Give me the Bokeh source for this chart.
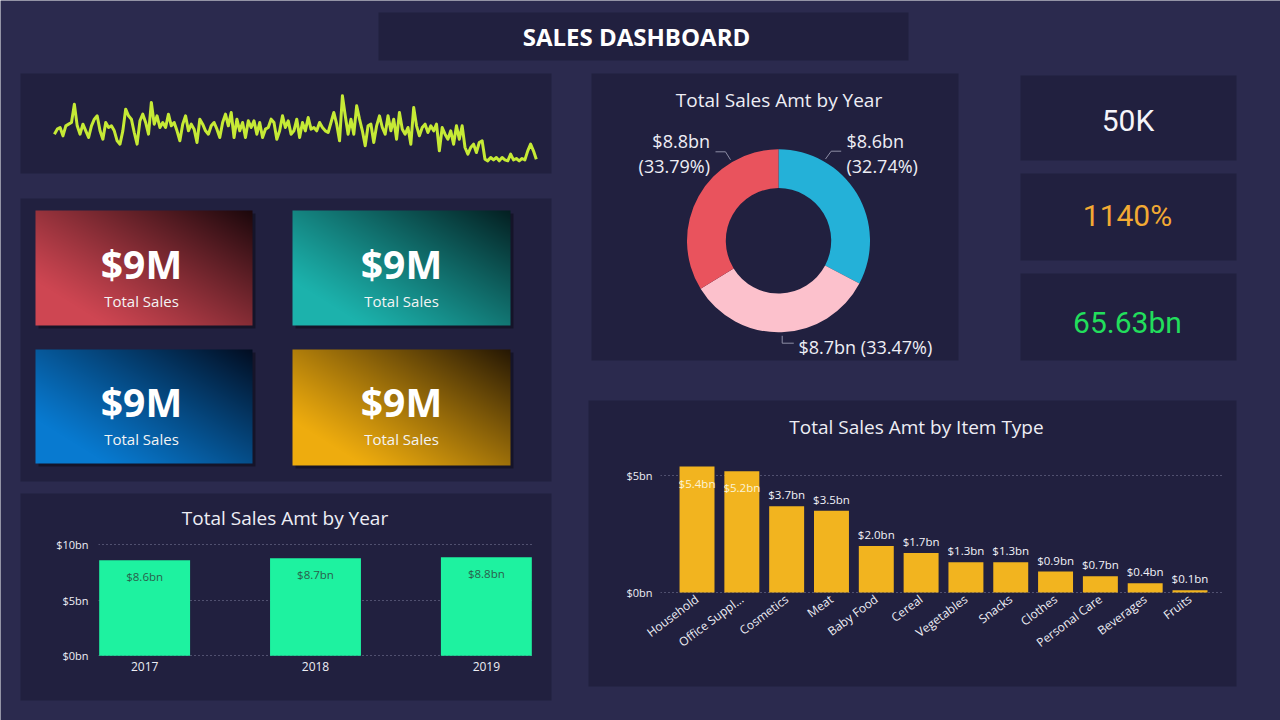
import numpy as np
from bokeh.plotting import figure
from bokeh.models import Range1d, FixedTicker, PrintfTickFormatter
from bokeh.core.properties import value
from bokeh.embed import file_html
from bokeh.resources import INLINE

# ---------------------------------------------------------------- data
daily_sales = [21, 24, 25, 20, 26, 27, 28, 39, 26, 21, 27, 23, 19, 26, 30, 32, 23, 18,
               28, 25, 26, 23, 17, 15, 23, 36, 32, 30, 22, 15, 29, 33, 28, 21, 40, 27,
               32, 25, 28, 25, 33, 26, 28, 23, 17, 27, 32, 23, 27, 24, 16, 30, 27, 23,
               21, 26, 28, 24, 19, 28, 33, 26, 34, 19, 30, 23, 28, 19, 29, 25, 29, 21,
               28, 19, 24, 25, 30, 28, 18, 23, 32, 25, 29, 21, 23, 30, 19, 28, 23, 31,
               24, 25, 23, 28, 25, 23, 22, 28, 34, 27, 17, 44, 32, 21, 30, 21, 38, 30,
               23, 14, 26, 27, 16, 26, 32, 25, 21, 32, 23, 30, 18, 34, 24, 21, 25, 15,
               37, 26, 20, 25, 27, 22, 26, 23, 27, 11, 25, 21, 18, 23, 15, 26, 18, 26,
               13, 9, 13, 15, 10, 16, 17, 6, 5, 7, 5.6, 7, 5, 7, 5.6, 5, 9, 5.6, 6.4, 5,
               6.4, 5.6, 11, 15, 11, 6]

years = ["2017", "2018", "2019"]
year_sales_bn = [8.552, 8.742, 8.826]
year_colors = ["#24b1d8", "#fcc1cc", "#e9535d"]

item_types = ["Household", "Office Supplies", "Cosmetics", "Meat", "Baby Food", "Cereal",
              "Vegetables", "Snacks", "Clothes", "Personal Care", "Beverages", "Fruits"]
item_tick_labels = ["Household", "Office Suppl...", "Cosmetics", "Meat", "Baby Food", "Cereal",
                    "Vegetables", "Snacks", "Clothes", "Personal Care", "Beverages", "Fruits"]
item_sales_bn = [5.4, 5.2, 3.7, 3.5, 2.0, 1.7, 1.3, 1.3, 0.9, 0.7, 0.4, 0.1]

card_values = ["$9M", "$9M", "$9M", "$9M"]
card_captions = ["Total Sales", "Total Sales", "Total Sales", "Total Sales"]
kpi_values = ["50K", "1140%", "65.63bn"]

# ---------------------------------------------------------------- style
W, H = 1280, 720
PAGE_BG = "#2b2a4e"
PANEL = "#21203f"
FONT = "Open Sans"
TXT = "#eeeef5"
GRID = "#9a9aba"
kpi_colors = ["#f5f5fa", "#f2aa33", "#22de5c"]


def Y(y):
    return H - y


def plain(fig):
    fig.background_fill_alpha = 0
    fig.border_fill_alpha = 0
    fig.outline_line_color = None
    return fig


def place(fig, left, top):
    fig.styles = {"position": "absolute", "left": f"{left}px", "top": f"{top}px"}


# ---------------------------------------------------------------- canvas
bg = figure(width=W, height=H, x_range=Range1d(0, W), y_range=Range1d(0, H),
            x_axis_location=None, y_axis_location=None, min_border=0,
            toolbar_location=None, output_backend="svg")
bg.grid.visible = False
bg.outline_line_color = None
bg.background_fill_color = PAGE_BG
bg.border_fill_color = PAGE_BG

panels = [(378, 12, 908, 60), (20, 73, 551, 173), (20, 198, 551, 481), (20, 493, 551, 700),
          (591, 73, 958, 360), (1020, 75, 1236, 160), (1020, 173, 1236, 260),
          (1020, 273, 1236, 360), (588, 400, 1236, 686)]
bg.quad(left=[p[0] for p in panels], right=[p[2] for p in panels],
        top=[Y(p[1]) for p in panels], bottom=[Y(p[3]) for p in panels],
        fill_color=PANEL, line_color=None)


def card_gradient(w, h, bright, dark):
    u = np.linspace(0.0, 1.0, w)[None, :]
    v = np.linspace(0.0, 1.0, h)[:, None]          # row 0 is the bottom edge
    t = (u * w + v * h * 1.6) / (w + h * 1.6)
    t = np.clip((t - 0.18) / 0.82, 0, 1) ** 1.1
    rgb = (1 - t)[..., None] * np.array(bright, float) + t[..., None] * np.array(dark, float)
    img = np.empty((h, w), dtype=np.uint32)
    view = img.view(dtype=np.uint8).reshape((h, w, 4))
    view[..., :3] = np.clip(rgb, 0, 255).astype(np.uint8)
    view[..., 3] = 255
    return img


cards = [((35, 210, 252, 325), (206, 70, 82), (28, 8, 12)),
         ((292, 210, 510, 325), (28, 178, 172), (4, 32, 34)),
         ((35, 349, 252, 463), (8, 122, 208), (2, 14, 34)),
         ((292, 349, 510, 465), (238, 172, 14), (38, 24, 4))]
for (l, t, r, b), bright, dark in cards:
    bg.quad(left=[l + 3], right=[r + 3], top=[Y(t + 3)], bottom=[Y(b + 3)],
            fill_color="black", fill_alpha=0.35, line_color=None)
    bg.image_rgba(image=[card_gradient(r - l, b - t, bright, dark)],
                  x=l, y=Y(b), dw=r - l, dh=b - t)

card_cx = [141, 401, 141, 401]
card_vy = [262.5, 262.5, 401, 401]
card_cy = [300, 300, 438.5, 438.5]
bg.text(x=card_cx, y=[Y(v) for v in card_vy], text=card_values, text_align="center",
        text_baseline="middle", text_font=value(FONT), text_font_size="39px",
        text_font_style="bold", text_color="white")
bg.text(x=card_cx, y=[Y(v) for v in card_cy], text=card_captions, text_align="center",
        text_baseline="middle", text_font=value(FONT), text_font_size="15px",
        text_color="#f4f4f4")

bg.text(x=[636], y=[Y(36)], text=["SALES DASHBOARD"], text_align="center",
        text_baseline="middle", text_font=value(FONT), text_font_size="24px",
        text_font_style="bold", text_color="white")

bg.text(x=[778.5, 284.5, 916], y=[Y(99), Y(517), Y(426)],
        text=["Total Sales Amt by Year", "Total Sales Amt by Year", "Total Sales Amt by Item Type"],
        text_align="center", text_baseline="middle", text_font=value(FONT),
        text_font_size="19px", text_color=TXT)

bg.text(x=[1127.5, 1127, 1127], y=[Y(119.5), Y(215), Y(322)], text=kpi_values,
        text_color=kpi_colors, text_align="center", text_baseline="middle",
        text_font=value("Roboto"), text_font_size="30px")
place(bg, 0, 0)

# ---------------------------------------------------------------- sparkline
n = len(daily_sales)
step = (535.8 - 53.9) / (n - 1)
sp = plain(figure(width=531, height=100,
                  x_range=Range1d(-(53.9 - 20) / step, (n - 1) + (551 - 535.8) / step),
                  y_range=Range1d(-2.6, 57.4), x_axis_location=None, y_axis_location=None,
                  min_border=0, toolbar_location=None, output_backend="svg"))
sp.grid.visible = False
sp.line(x=list(range(n)), y=daily_sales, line_color="#c6ea36", line_width=3,
        line_join="round")
place(sp, 20, 73)

# ---------------------------------------------------------------- donut
dn = plain(figure(width=367, height=287, x_range=Range1d(0, 367), y_range=Range1d(0, 287),
                  x_axis_location=None, y_axis_location=None, min_border=0,
                  toolbar_location=None, output_backend="svg"))
dn.grid.visible = False
total = sum(year_sales_bn)
shares = [v / total for v in year_sales_bn]
cum = np.concatenate([[0], np.cumsum(shares)])
starts = [np.pi / 2 - 2 * np.pi * c for c in cum[:-1]]
ends = [np.pi / 2 - 2 * np.pi * c for c in cum[1:]]
dn.annular_wedge(x=187, y=119.7, inner_radius=52.7, outer_radius=91.5,
                 start_angle=starts, end_angle=ends, direction="clock",
                 fill_color=year_colors, line_color=None)

amt = [f"${v:.1f}bn" for v in year_sales_bn]
pct = [f"({100 * s:.2f}%)" for s in shares]
leaders = {0: ([234, 239.7, 249.7], [201.5, 209.3, 209.3]),
           1: ([190.7, 190.7, 202.3], [24.7, 17.3, 17.3]),
           2: ([139, 134, 124], [200.7, 208.7, 208.7])}
for i, (lx, ly) in leaders.items():
    dn.line(x=lx, y=ly, line_color="#8d8da5", line_width=1)
lab_style = dict(text_baseline="middle", text_font=value(FONT), text_font_size="18px",
                 text_color=TXT)
dn.text(x=[255, 255], y=[219.7, 194.7], text=[amt[0], pct[0]], text_align="left", **lab_style)
dn.text(x=[118.5, 118.5], y=[219.7, 194.7], text=[amt[2], pct[2]], text_align="right", **lab_style)
dn.text(x=[207], y=[14], text=[f"{amt[1]} {pct[1]}"], text_align="left", **lab_style)
place(dn, 591, 73)


def style_axes(fig, size):
    for ax in (fig.xaxis[0], fig.yaxis[0]):
        ax.axis_line_color = None
        ax.major_tick_line_color = None
        ax.minor_tick_line_color = None
        ax.major_tick_out = 0
        ax.major_tick_in = 0
        ax.major_label_text_color = TXT
        ax.major_label_text_font = FONT
        ax.major_label_text_font_size = size
    fig.xgrid.visible = False
    fig.ygrid.grid_line_color = GRID
    fig.ygrid.grid_line_dash = "1 3"
    fig.ygrid.grid_line_alpha = 0.8


# ---------------------------------------------------------------- sales by year (bars)
yb = plain(figure(width=531, height=207, x_range=Range1d(-0.27, 2.27),
                  y_range=Range1d(-0.06, 10.06),
                  min_border_left=78, min_border_right=19, min_border_top=50,
                  min_border_bottom=44, toolbar_location=None, output_backend="svg"))
style_axes(yb, "11px")
yb.yaxis.ticker = FixedTicker(ticks=[0, 5, 10])
yb.yaxis.formatter = PrintfTickFormatter(format="$%dbn")
yb.yaxis.major_label_standoff = 10
yb.xaxis.ticker = FixedTicker(ticks=list(range(len(years))))
yb.xaxis.major_label_overrides = {i: y for i, y in enumerate(years)}
yb.xaxis.major_label_standoff = 5
yb.xaxis.major_label_text_font_size = "12px"
yx = list(range(len(years)))
yb.vbar(x=yx, top=year_sales_bn, width=0.532, fill_color="#1ef2a0", line_color=None)
yb.text(x=yx, y=year_sales_bn, text=amt, text_align="center", text_baseline="top",
        y_offset=9, text_font=value(FONT), text_font_size="11.5px", text_color="#2a5f4b")
place(yb, 20, 493)

# ---------------------------------------------------------------- sales by item type
y_top = 6
ib = plain(figure(width=648, height=286, x_range=Range1d(-0.815, 11.725),
                  y_range=Range1d(-0.04, y_top), min_border_left=72, min_border_right=14,
                  min_border_top=52, min_border_bottom=93, toolbar_location=None,
                  output_backend="svg"))
style_axes(ib, "11px")
ib.yaxis.ticker = FixedTicker(ticks=[0, 5])
ib.yaxis.formatter = PrintfTickFormatter(format="$%dbn")
ib.yaxis.major_label_standoff = 8
ix = list(range(len(item_types)))
ib.xaxis.ticker = FixedTicker(ticks=ix)
ib.xaxis.major_label_overrides = {i: s for i, s in enumerate(item_tick_labels)}
ib.xaxis.major_label_orientation = 0.64
ib.xaxis.major_label_standoff = 4
ib.xaxis.major_label_text_font_size = "12px"
ib.vbar(x=ix, top=item_sales_bn, width=0.78, fill_color="#f2b41f", line_color=None)

item_text = [f"${v:.1f}bn" for v in item_sales_bn]
inside = [v > y_top - 1 for v in item_sales_bn]
ib.text(x=[x for x, k in zip(ix, inside) if k], y=[v for v, k in zip(item_sales_bn, inside) if k],
        text=[t for t, k in zip(item_text, inside) if k], text_align="center",
        text_baseline="top", y_offset=9, text_font=value(FONT), text_font_size="11.5px",
        text_color="#fbf3d6")
ib.text(x=[x for x, k in zip(ix, inside) if not k],
        y=[v for v, k in zip(item_sales_bn, inside) if not k],
        text=[t for t, k in zip(item_text, inside) if not k], text_align="center",
        text_baseline="bottom", y_offset=-4, text_font=value(FONT), text_font_size="11.5px",
        text_color="#f2f2f8")
place(ib, 588, 400)

with open("out.html", "w") as f:
    f.write(file_html([bg, sp, dn, yb, ib], INLINE))
